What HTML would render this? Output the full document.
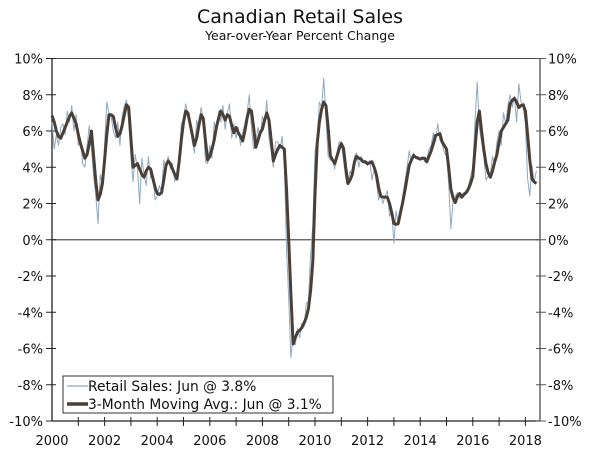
<!DOCTYPE html>
<html><head><meta charset="utf-8"><style>
html,body{margin:0;padding:0;background:#fff;}
svg{display:block;font-family:"DejaVu Sans","Liberation Sans",sans-serif;}
</style></head><body>
<svg id="chart" width="600" height="454" viewBox="0 0 600 454" xmlns="http://www.w3.org/2000/svg">
<text x="300" y="23" text-anchor="middle" font-size="19" fill="#111">Canadian Retail Sales</text>
<text x="300" y="40" text-anchor="middle" font-size="12.5" fill="#111">Year-over-Year Percent Change</text>
<g id="axes"></g>
<g id="series"></g>
<g id="legend">
<rect x="63" y="376" width="270" height="37" fill="#fff" stroke="#333" stroke-width="1"/>
<line x1="67" y1="386" x2="88" y2="386" stroke="#9fb6c8" stroke-width="1.5"/>
<text x="88" y="391" font-size="13.8" fill="#111">Retail Sales: Jun @ 3.8%</text>
<line x1="67" y1="404" x2="88" y2="404" stroke="#4a3f37" stroke-width="3.5"/>
<text x="88" y="409" font-size="13.8" fill="#111">3-Month Moving Avg.: Jun @ 3.1%</text>
</g>
</svg>
<script>
const yTicks=[10,8,6,4,2,0,-2,-4,-6,-8,-10];
const yTickLabels=["10%","8%","6%","4%","2%","0%","-2%","-4%","-6%","-8%","-10%"];
const xYears=[2000,2002,2004,2006,2008,2010,2012,2014,2016,2018];
const retailSales=[
6.5,5.0,5.8,5.2,6.2,6.4,5.8,7.1,6.5,7.4,6.0,6.9,
5.2,5.6,4.2,4.0,5.2,6.3,5.0,3.5,2.4,0.9,3.6,3.0,
5.3,7.6,7.0,6.8,6.0,5.6,6.5,5.2,6.8,7.4,7.7,6.6,
4.6,3.2,4.7,3.9,2.0,4.5,3.6,3.0,4.6,3.4,3.6,2.2,
2.4,3.0,2.6,4.4,4.0,4.6,3.9,4.2,3.2,3.6,4.5,6.4,
6.6,7.5,6.9,6.6,5.4,4.8,6.6,6.0,7.3,6.7,4.3,4.2,
5.2,4.5,6.5,5.9,7.1,6.5,7.4,6.1,7.0,7.5,5.6,6.4,
5.6,6.2,5.2,5.9,6.4,7.0,8.0,6.2,5.0,5.4,6.2,5.7,
6.8,6.4,7.7,5.6,4.9,4.0,5.4,5.4,5.0,5.7,4.2,-0.5,
-3.2,-6.5,-5.3,-5.8,-4.9,-5.4,-4.6,-4.8,-3.5,-3.4,-0.8,0.8,
4.9,5.5,7.6,7.3,8.9,6.7,4.6,4.4,4.4,3.9,4.8,5.4,
5.4,4.4,3.4,3.2,3.8,3.5,4.6,4.8,4.0,4.6,4.3,4.2,
4.1,4.4,3.3,3.9,3.2,2.2,2.5,2.0,2.4,2.7,1.3,1.6,
-0.2,1.6,0.8,1.4,2.4,3.2,4.0,4.9,4.3,4.8,4.5,4.6,
4.4,4.6,4.3,4.4,5.0,5.2,5.9,5.4,6.4,5.5,5.3,4.8,
4.6,3.1,0.6,2.2,2.4,2.6,2.3,2.5,2.6,2.7,3.0,3.5,
4.0,6.5,8.7,6.2,5.4,4.6,3.3,3.5,3.6,4.6,4.1,5.4,
6.0,5.2,7.0,6.4,7.4,8.0,7.3,7.9,6.5,8.6,7.6,7.3,
6.4,3.4,2.4,4.1,3.2,3.8];
const movingAvg=[
6.85,6.5,6.0,5.7,5.6,5.9,6.2,6.5,6.8,7.0,6.7,6.4,
5.8,5.3,4.9,4.5,4.7,5.3,6.0,4.6,3.2,2.2,2.5,3.1,
4.4,5.8,6.9,6.9,6.8,6.2,5.7,5.85,6.3,6.9,7.45,7.3,
5.6,4.0,4.1,4.2,3.9,3.6,3.45,3.8,4.0,3.9,3.4,2.9,
2.55,2.5,2.6,3.3,4.1,4.35,4.2,3.9,3.6,3.35,4.3,5.5,
6.5,7.1,7.0,6.4,5.8,5.2,5.6,6.3,6.9,6.7,5.5,4.4,
4.6,5.0,5.5,6.2,6.7,7.1,6.9,6.6,6.9,6.8,6.3,5.9,
6.2,5.9,5.7,5.45,6.0,6.7,7.2,7.1,6.2,5.1,5.5,5.9,
6.1,6.6,7.0,6.6,5.5,4.35,4.7,5.0,5.2,5.1,5.0,2.8,
0,-3.0,-5.75,-5.4,-5.1,-5.0,-4.85,-4.6,-4.3,-3.8,-2.8,-1.2,
2.5,5.3,6.5,7.2,7.6,7.4,6.2,4.65,4.4,4.2,4.6,5.0,
5.3,5.05,4.0,3.1,3.3,3.6,4.3,4.6,4.5,4.45,4.3,4.3,
4.2,4.25,4.3,4.0,3.6,2.9,2.4,2.35,2.35,2.35,2.0,1.5,
0.9,0.85,0.9,1.5,2.05,2.7,3.4,4.1,4.4,4.65,4.55,4.5,
4.45,4.5,4.5,4.3,4.6,4.9,5.3,5.75,5.8,5.85,5.4,5.2,
5.0,4.0,2.8,2.3,2.05,2.4,2.55,2.35,2.5,2.6,2.8,3.1,
3.5,5.0,6.5,7.1,6.0,5.0,4.2,3.7,3.45,3.8,4.3,4.7,
5.4,6.0,6.2,6.4,6.6,7.5,7.7,7.8,7.6,7.3,7.4,7.45,
7.1,5.8,4.4,3.35,3.2,3.1];

const NS="http://www.w3.org/2000/svg";
const L=52,R=540,T=58.5,B=421;
const yScale=v=>T+(10-v)*(B-T)/20;
const xScale=m=>L+m*(26.3/12);
function mk(tag,attrs,parent){const e=document.createElementNS(NS,tag);for(const k in attrs)e.setAttribute(k,attrs[k]);parent.appendChild(e);return e;}
const axes=document.getElementById('axes');
const series=document.getElementById('series');

let e=mk('line',{x1:L,y1:T,x2:R,y2:T,stroke:'#444','stroke-width':1},axes);


e=mk('line',{x1:L,y1:T,x2:L,y2:B,stroke:'#222','stroke-width':1.3},axes);


e=mk('line',{x1:R,y1:T,x2:R,y2:B,stroke:'#666','stroke-width':1.5},axes);


e=mk('line',{x1:L,y1:B,x2:R,y2:B,stroke:'#222','stroke-width':1.3},axes);


e=mk('line',{x1:L,y1:yScale(0),x2:R,y2:yScale(0),stroke:'#555','stroke-width':1.3},axes);



yTicks.forEach((v,i)=>{
  const y=yScale(v);
  let t=mk('line',{x1:L-6,y1:y,x2:L+4,y2:y,stroke:'#222','stroke-width':1},axes);
  
  
  t=mk('line',{x1:R-4,y1:y,x2:R+6,y2:y,stroke:'#555','stroke-width':1},axes);
  
  
  let tx=mk('text',{x:L-9,y:y+5,'text-anchor':'end','font-size':13,fill:'#111'},axes);
  tx.textContent=yTickLabels[i];
  
  
  tx=mk('text',{x:R+8,y:y+5,'text-anchor':'start','font-size':13,fill:'#111'},axes);
  tx.textContent=yTickLabels[i];
  
  
});
for(let yr=2001;yr<=2018;yr++){
  const x=xScale((yr-2000)*12);
  const t=mk('line',{x1:x,y1:B-4,x2:x,y2:B+5,stroke:'#222','stroke-width':1},axes);
  
  
}
xYears.forEach(yr=>{
  const tx=mk('text',{x:xScale((yr-2000)*12),y:445,'text-anchor':'middle','font-size':13,fill:'#111'},axes);
  tx.textContent=String(yr);
  
  
});

function pathFor(arr){return arr.map((v,i)=>(i?'L':'M')+xScale(i).toFixed(2)+','+yScale(v).toFixed(2)).join('');}
let p=mk('path',{d:pathFor(retailSales),fill:'none',stroke:'#8fa9bf','stroke-width':1,'stroke-linejoin':'round'},series);


p=mk('path',{d:pathFor(movingAvg),fill:'none',stroke:'#4a3f37','stroke-width':3,'stroke-linejoin':'round'},series);


</script>
</body></html>
